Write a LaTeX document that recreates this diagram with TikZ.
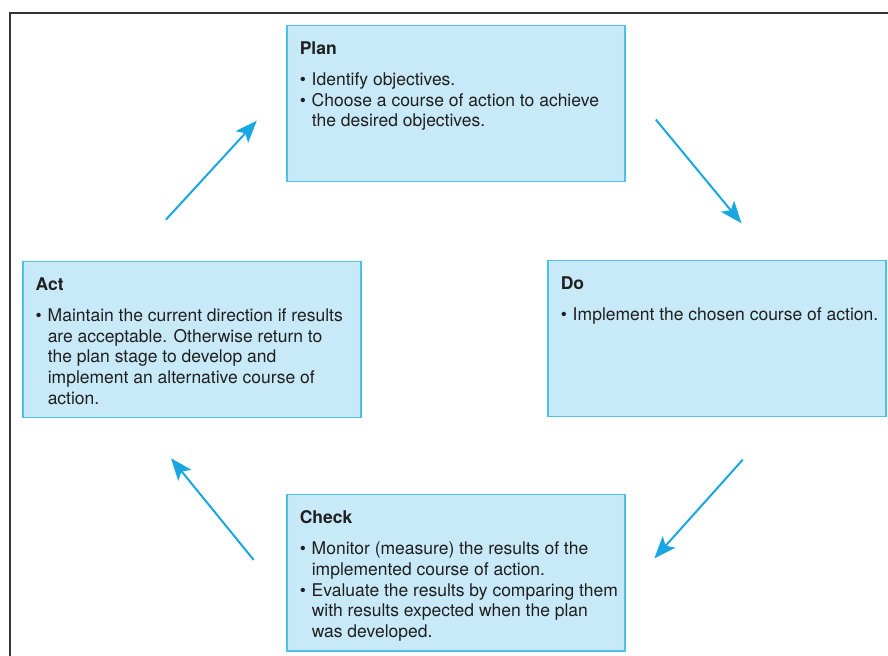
\documentclass[tikz,border=0pt]{standalone}
\usepackage{fontspec}
\setmainfont{TeX Gyre Heros}
\usetikzlibrary{arrows.meta}

\definecolor{boxfill}{HTML}{C8E9F8}
\definecolor{boxline}{HTML}{4CC1EC}
\definecolor{arrowblue}{HTML}{1AA7E1}
\definecolor{framegray}{HTML}{333333}

% bullet line with hanging indent
\newlength{\bulletw}\setlength{\bulletw}{6pt}
\newcommand{\bitem}[1]{\par\hangindent=\bulletw\hangafter=1\noindent\makebox[\bulletw][l]{\textbullet}#1}
% title and bullets of one stage, top aligned
\newcommand{\stagetext}[2]{\makebox[156pt][l]{\begin{minipage}[t][62pt][t]{164pt}\raggedright\textbf{#1}\par\vspace{5.1pt}#2\end{minipage}}}

\tikzset{
  stagebox/.style={draw=boxline, fill=boxfill, line width=0.75pt, anchor=north west,
    inner xsep=6.5pt, inner ysep=8pt, text=black!88,
    font=\fontsize{8.75}{10.35}\selectfont},
  flow/.style={draw=arrowblue, line width=1pt, -{Stealth[length=11pt,width=8.5pt,inset=2.5pt]}}
}

\begin{document}
\begin{tikzpicture}[x=0.5pt, y=-0.5pt]
    \useasboundingbox (0,0) rectangle (888,656);

    % Frame at top and left
    \draw[framegray, line width=1pt] (888,13) -- (10,13) -- (10,656);

    % The four stages
    \node[stagebox] (plan) at (286,25) {\stagetext{Plan}{%
        \bitem{Identify objectives.}
        \bitem{Choose a course of action to achieve\newline the desired objectives.}}};
    \node[stagebox] (do) at (547,260) {\stagetext{Do}{%
        \bitem{Implement the chosen course of action.}}};
    \node[stagebox] (check) at (286,494) {\stagetext{Check}{%
        \bitem{Monitor (measure) the results of the\newline implemented course of action.}
        \bitem{Evaluate the results by comparing them\newline with results expected when the plan\newline was developed.}}};
    \node[stagebox] (act) at (22,261) {\stagetext{Act}{%
        \bitem{Maintain the current direction if results\newline are acceptable. Otherwise return to\newline the plan stage to develop and\newline implement an alternative course of\newline action.}}};

    % The cycle
    \draw[flow, shorten <=28pt, shorten >=21.6pt] (act.129) -- (plan.175);
    \draw[flow, shorten <=23.8pt, shorten >=23.8pt] (plan.7.4) -- (do.55.8);
    \draw[flow, shorten <=28.3pt, shorten >=21.6pt] (do.309.4) -- (check.354.2);
    \draw[flow, shorten <=25.6pt, shorten >=25.6pt] (check.189.4) -- (act.236);
\end{tikzpicture}
\end{document}
